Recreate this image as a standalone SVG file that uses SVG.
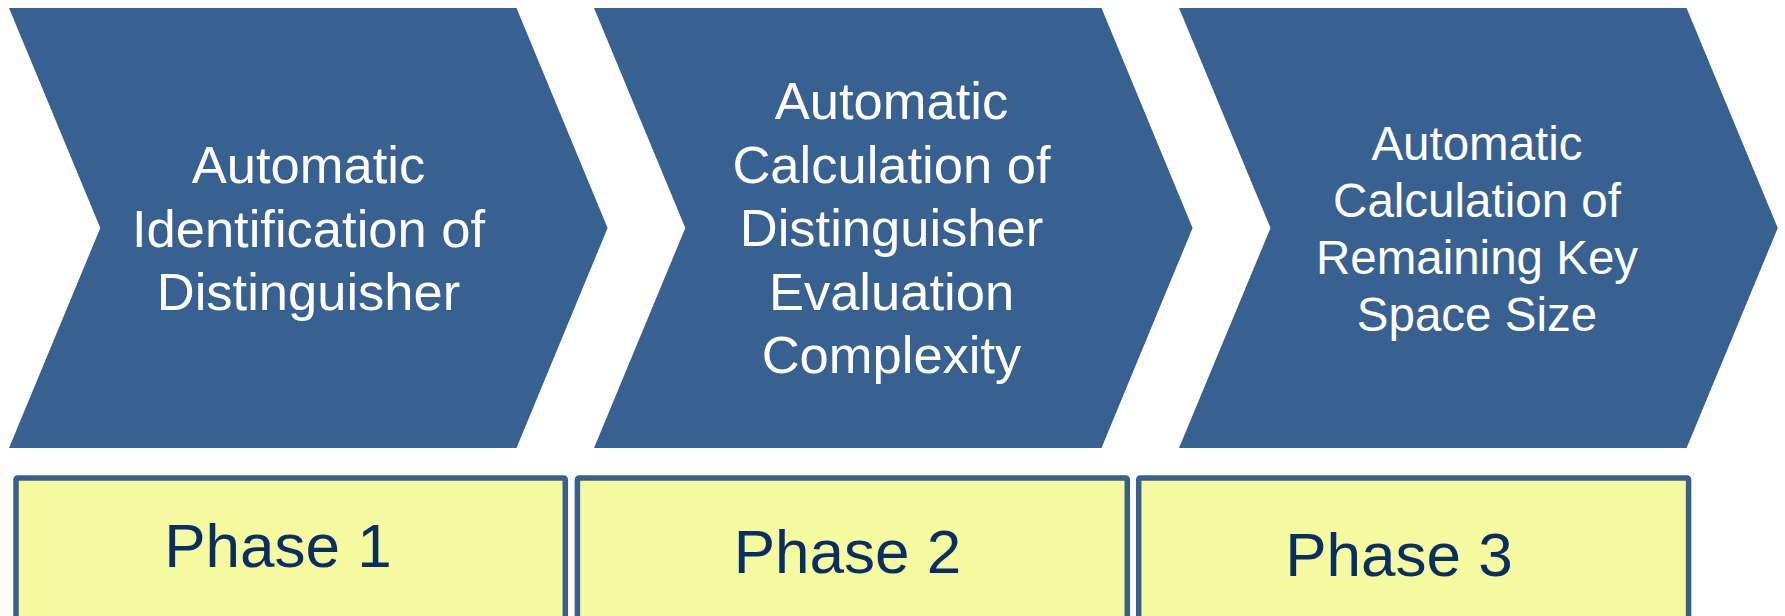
<svg xmlns="http://www.w3.org/2000/svg" width="1785" height="616" viewBox="0 0 1785 616">
<style>
.chev{fill:#386192}
.ct{fill:#ffffff;font-family:"Liberation Sans",Arial,sans-serif;text-anchor:middle}
.box{fill:#f5f9a0;stroke:#3a5f8c;stroke-width:5.5}
.pt{fill:#0b2e62;font-family:"Liberation Sans",Arial,sans-serif;font-size:62px;text-anchor:middle}
</style>
<rect width="1785" height="616" fill="#ffffff"/>
<g id="step1">
<polygon class="chev" points="9,8 516.5,8 607.6,228 516.5,448 9,448 100.3,228"/>
<text class="ct" font-size="52.5" x="308.5"><tspan x="308.5" y="183.3">Automatic</tspan><tspan x="308.5" y="246.8">Identification of</tspan><tspan x="308.5" y="310.3">Distinguisher</tspan></text>
</g>
<g id="step2">
<polygon class="chev" points="594,8 1101.5,8 1192.6,228 1101.5,448 594,448 685.3,228"/>
<text class="ct" font-size="52.5" x="891.5"><tspan x="891.5" y="119.3">Automatic</tspan><tspan x="891.5" y="182.8">Calculation of</tspan><tspan x="891.5" y="246.3">Distinguisher</tspan><tspan x="891.5" y="309.8">Evaluation</tspan><tspan x="891.5" y="373.3">Complexity</tspan></text>
</g>
<g id="step3">
<polygon class="chev" points="1179,8 1686.6,8 1777.8,228 1686.6,448 1179,448 1270.5,228"/>
<text class="ct" font-size="47.5" x="1477"><tspan x="1477" y="160">Automatic</tspan><tspan x="1477" y="217">Calculation of</tspan><tspan x="1477" y="274">Remaining Key</tspan><tspan x="1477" y="331">Space Size</tspan></text>
</g>
<g id="phase1">
<rect class="box" x="16" y="478" width="549.3" height="150" rx="1.5"/>
<text class="pt" x="278" y="566.5">Phase 1</text>
</g>
<g id="phase2">
<rect class="box" x="577.4" y="478" width="549.9" height="150" rx="1.5"/>
<text class="pt" x="847.5" y="572.5">Phase 2</text>
</g>
<g id="phase3">
<rect class="box" x="1138.7" y="478" width="549.9" height="150" rx="1.5"/>
<text class="pt" x="1399" y="576">Phase 3</text>
</g>
<g id="connectors"/>
</svg>
